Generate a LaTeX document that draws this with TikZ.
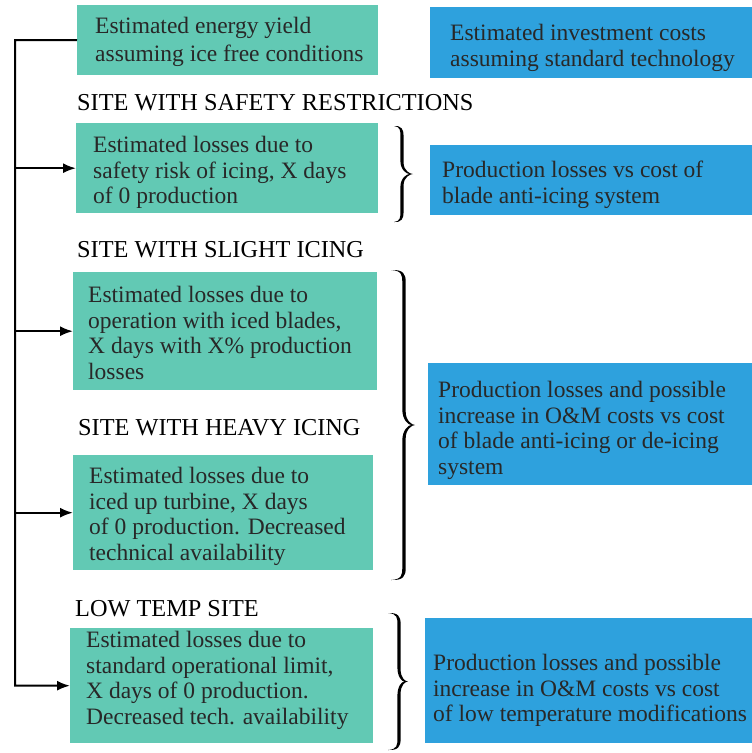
\documentclass[tikz,border=0pt]{standalone}
\usepackage{fontspec}
\setmainfont{Liberation Serif}
\usetikzlibrary{arrows.meta}
\definecolor{tealbg}{RGB}{98,201,180}
\definecolor{bluebg}{RGB}{46,161,221}
\definecolor{txt}{RGB}{40,40,40}
% filled, tapered right-pointing brace:
% #1 end x, #2 spine x, #3 tip x, #4 top y, #5 bottom y, #6 curl radius, #7 thickness
\newcommand\mybrace[7]{%
  \pgfmathsetmacro\bym{(#4+#5)/2}%
  \fill[black]
    (#1,#4) .. controls ({#2-#7/2},{#4+0.5}) and ({#2-#7/2},{#4+#6/2}) .. ({#2-#7/2},{#4+#6})
    -- ({#2-#7/2},{\bym-#6*1.3})
    .. controls ({#2-#7/2},{\bym-#6*0.4}) and ({#3-#7-3},\bym) .. ({#3-#7*1.1},\bym)
    .. controls ({#3-#7-3},\bym) and ({#2-#7/2},{\bym+#6*0.4}) .. ({#2-#7/2},{\bym+#6*1.3})
    -- ({#2-#7/2},{#5-#6})
    .. controls ({#2-#7/2},{#5-#6/2}) and ({#2-#7/2},{#5-0.5}) .. (#1,#5)
    .. controls ({#2-0.5},{#5+0.5}) and ({#2+#7/2},{#5-#6/3}) .. ({#2+#7/2},{#5-#6})
    -- ({#2+#7/2},{\bym+#6*1.1})
    .. controls ({#2+#7/2},{\bym+#6*0.35}) and ({#3-3},\bym) .. (#3,\bym)
    .. controls ({#3-3},\bym) and ({#2+#7/2},{\bym-#6*0.35}) .. ({#2+#7/2},{\bym-#6*1.1})
    -- ({#2+#7/2},{#4+#6})
    .. controls ({#2+#7/2},{#4+#6/3}) and ({#2-0.5},{#4-0.5}) .. (#1,#4) -- cycle;%
}
\begin{document}
\begin{tikzpicture}[x=1pt,y=-1pt,
  tealbox/.style={fill=tealbg,draw=none},
  bluebox/.style={fill=bluebg,draw=none},
  boxtext/.style={anchor=north west,inner sep=0pt,align=left,text=txt,
    font=\fontsize{23.5}{25.5}\selectfont},
  sitelabel/.style={anchor=base west,inner sep=0pt,text=black,
    font=\fontsize{24.3}{26}\selectfont},
  conn/.style={line width=2pt,black},
  arr/.style={conn,-{Latex[length=13pt,width=10pt]}}
]
\useasboundingbox (0,0) rectangle (752,753);

% boxes
\node[tealbox,anchor=north west,minimum width=301pt,minimum height=70pt,inner sep=0] (b1) at (77,5) {};
\node[bluebox,anchor=north west,minimum width=322pt,minimum height=71pt,inner sep=0] (b2) at (430,7) {};
\node[tealbox,anchor=north west,minimum width=302pt,minimum height=90pt,inner sep=0] (b3) at (76,123) {};
\node[bluebox,anchor=north west,minimum width=322pt,minimum height=70pt,inner sep=0] (b7) at (430,145) {};
\node[tealbox,anchor=north west,minimum width=304pt,minimum height=118pt,inner sep=0] (b4) at (73,272) {};
\node[tealbox,anchor=north west,minimum width=300pt,minimum height=115pt,inner sep=0] (b5) at (73,455) {};
\node[bluebox,anchor=north west,minimum width=324pt,minimum height=122pt,inner sep=0] (b8) at (428,363) {};
\node[tealbox,anchor=north west,minimum width=303pt,minimum height=115pt,inner sep=0] (b6) at (70,628) {};
\node[bluebox,anchor=north west,minimum width=327pt,minimum height=125pt,inner sep=0] (b9) at (425,618) {};

% box texts
\node[boxtext,font=\fontsize{23.5}{28}\selectfont] (t1) at (95,17) {Estimated energy yield\\assuming ice free conditions};
\node[boxtext] (t2) at (450,24) {Estimated investment costs\\assuming standard technology};
\node[boxtext] (t3) at (93,136) {Estimated losses due to\\safety risk of icing, X days\\of 0 production};
\node[boxtext] (t7) at (442,161) {Production losses vs cost of\\blade anti-icing system};
\node[boxtext] (t4) at (88,286) {Estimated losses due to\\operation with iced blades,\\X days with X\% production\\losses};
\node[boxtext] (t5) at (89,467) {Estimated losses due to\\iced up turbine, X days\\of 0 production. Decreased\\technical availability};
\node[boxtext] (t8) at (438,381) {Production losses and possible\\increase in O\&M costs vs cost\\of blade anti-icing or de-icing\\system};
\node[boxtext] (t6) at (86,631) {Estimated losses due to\\standard operational limit,\\X days of 0 production.\\Decreased tech. availability};
\node[boxtext] (t9) at (433,654) {Production losses and possible\\increase in O\&M costs vs cost\\of low temperature modifications};

% site labels
\node[sitelabel] (l1) at (77,110) {SITE WITH SAFETY RESTRICTIONS};
\node[sitelabel] (l2) at (77,257) {SITE WITH SLIGHT ICING};
\node[sitelabel] (l3) at (78,435) {SITE WITH HEAVY ICING};
\node[sitelabel] (l4) at (75,616) {LOW TEMP SITE};

% connectors
\coordinate (spine) at (15,40);
\draw[arr] (b1.west) -- (spine) |- (b6.west);
\draw[arr] (spine |- b3.west) -- (b3.west);
\draw[arr] (spine |- b4.west) -- (b4.west);
\draw[arr] (spine |- b5.west) -- (b5.west);

% braces
\mybrace{394}{402}{413}{126}{222}{10}{3.2}
\mybrace{391}{404}{415}{270}{580}{12}{3.4}
\mybrace{388}{399}{408}{613}{750}{11}{3.2}
\end{tikzpicture}
\end{document}
